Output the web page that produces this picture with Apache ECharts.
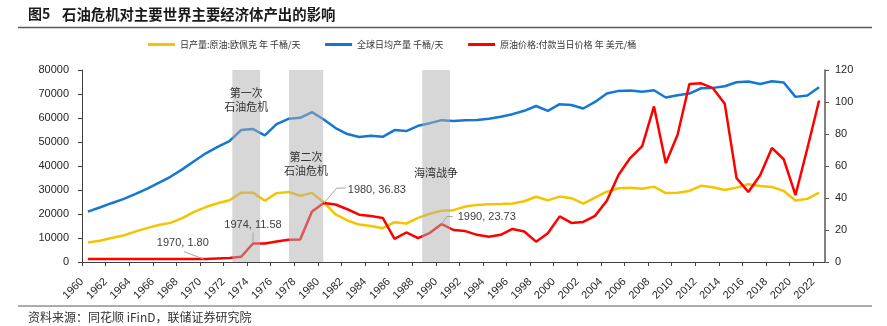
<!DOCTYPE html>
<html>
<head>
<meta charset="utf-8">
<script src="https://cdn.jsdelivr.net/npm/echarts@6/dist/echarts.min.js"></script>
<style>
  html, body { margin: 0; padding: 0; background: #fff; }
  #chart { width: 887px; height: 326px; }
</style>
</head>
<body>
<div id="chart"></div>
<script>
// Years on the category axis
const years = [
  '1960','1961','1962','1963','1964','1965','1966','1967','1968','1969',
  '1970','1971','1972','1973','1974','1975','1976','1977','1978','1979',
  '1980','1981','1982','1983','1984','1985','1986','1987','1988','1989',
  '1990','1991','1992','1993','1994','1995','1996','1997','1998','1999',
  '2000','2001','2002','2003','2004','2005','2006','2007','2008','2009',
  '2010','2011','2012','2013','2014','2015','2016','2017','2018','2019',
  '2020','2021','2022'
];

// OPEC crude output, thousand barrels per day
const opecOutput = [
  8140, 8850, 9970, 11050, 12650, 14100, 15400, 16300, 18300, 20900,
  22900, 24500, 25700, 28900, 28900, 25500, 28700, 29200, 27600, 28800,
  24800, 19800, 17300, 15600, 15000, 14100, 16600, 16000, 18400, 20100,
  21400, 21600, 23100, 23800, 24100, 24200, 24400, 25300, 27200, 25700,
  27250, 26600, 24300, 26800, 29300, 30700, 30900, 30500, 31400, 28700,
  28900, 29600, 31800, 31150, 30000, 31000, 32400, 31700, 31300, 29600,
  25600, 26300, 28900
];

// World average daily output, thousand barrels per day
const worldOutput = [
  21000, 22700, 24500, 26200, 28250, 30450, 33000, 35500, 38600, 42000,
  45300, 48000, 50400, 55000, 55400, 52750, 57450, 59650, 60100, 62450,
  59400, 55800, 53300, 52050, 52600, 52150, 54950, 54550, 56750, 57850,
  59100, 58700, 59100, 59150, 59700, 60500, 61600, 63000, 65000, 63000,
  65750, 65400, 63950, 66700, 70200, 71300, 71450, 70900, 71550, 68550,
  69500, 70200, 72400, 72550, 73250, 74900, 75200, 74200, 75300, 74800,
  68800, 69400, 72800
];

// Crude price, USD per barrel (money of the day)
const crudePrice = [
  1.90, 1.80, 1.80, 1.80, 1.80, 1.80, 1.80, 1.80, 1.80, 1.80,
  1.80, 2.24, 2.48, 3.29, 11.58, 11.53, 12.80, 13.92, 14.02, 31.61,
  36.83, 35.93, 32.97, 29.55, 28.78, 27.56, 14.43, 18.44, 14.92, 18.23,
  23.73, 20.00, 19.32, 16.97, 15.82, 17.02, 20.67, 19.09, 12.72, 17.97,
  28.50, 24.44, 25.02, 28.83, 38.27, 54.52, 65.14, 72.39, 97.26, 61.67,
  79.50, 111.26, 111.67, 108.66, 98.95, 52.39, 43.73, 54.19, 71.31, 64.21,
  41.84, 70.91, 100.93
];

// Years whose price is written next to the line
const labelledYears = ['1970', '1974', '1980', '1990'];

// Shaded crisis periods (in year units along the time axis)
const crisisStart = [1972.75, 1977.55, 1988.85];
const crisisEnd   = [1975.10, 1980.45, 1991.20];
const crisisNames = ['第一次\n石油危机', '第二次\n石油危机', '海湾战争'];

// Axis ranges
const leftTicks  = { min: 0, max: 80000, step: 10000 };
const rightTicks = { min: 0, max: 120, step: 20 };

const seriesNames = ['日产量:原油:欧佩克 年 千桶/天', '全球日均产量 千桶/天', '原油价格:付款当日价格 年 美元/桶'];

// ---- layout / style ----
const LATIN = "'Liberation Sans', Arial, sans-serif";
const CJK = "'Noto Sans CJK SC', sans-serif";
const COLORS = ['#F5C400', '#1478D2', '#FF0000'];

// Leader line (relative to the data point) and where the text sits
const NOTE_LAYOUT = {
  '1970': { path: [[-2, 0], [-22, -7.5]], text: [-23, -16.5], align: 'center' },
  '1974': { path: [[0, -1], [0, -11]], text: [0, -18.5], align: 'center' },
  '1980': { path: [[0, 0], [13, -15], [22, -15]], text: [24, -13.5], align: 'left' },
  '1990': { path: [[0, 0], [5, -7.5], [11, -7.5]], text: [16, -7], align: 'left' }
};
// vertical placement of the crisis captions on the right axis scale
const CRISIS_TEXT_LEVEL = [101.4, 61.4, 55.5];

const noteData = labelledYears.map(y => [y, crudePrice[years.indexOf(y)]]);

const chart = echarts.init(document.getElementById('chart'), null, { renderer: 'canvas' });

chart.setOption({
  animation: false,
  backgroundColor: '#ffffff',
  color: COLORS,
  graphic: [
    { type: 'text', left: 28, top: 7, style: { text: '图5', font: 'bold 14px ' + CJK, fill: '#1a1a1a' } },
    { type: 'text', left: 62, top: 7, style: { text: '石油危机对主要世界主要经济体产出的影响', font: 'bold 14.4px ' + CJK, fill: '#1a1a1a' } },
    { type: 'line', shape: { x1: 18, y1: 27.5, x2: 872, y2: 27.5 }, style: { stroke: '#595959', lineWidth: 1.5 } },
    { type: 'line', shape: { x1: 18, y1: 306, x2: 872, y2: 306 }, style: { stroke: '#595959', lineWidth: 1 } },
    { type: 'text', left: 28, top: 311, style: { text: '资料来源：同花顺 iFinD，联储证券研究院', font: '12px ' + CJK, fill: '#333' } }
  ],
  legend: {
    left: 148,
    top: 40,
    padding: 0,
    icon: 'rect',
    itemWidth: 27,
    itemHeight: 3,
    itemGap: 24.5,
    textStyle: { fontFamily: CJK, fontSize: 9, color: '#333' },
    data: seriesNames
  },
  grid: { left: 82, right: 62, top: 70, bottom: 64, containLabel: false },
  xAxis: [
    {
      type: 'category',
      data: years,
      show: false,
      boundaryGap: true
    },
    {
      type: 'value',
      min: 1960,
      max: 2023,
      interval: 2,
      position: 'bottom',
      axisLine: { show: true, lineStyle: { color: '#404040', width: 1 } },
      axisTick: { show: true, length: 4, lineStyle: { color: '#404040' } },
      splitLine: { show: false },
      axisLabel: {
        rotate: 45,
        margin: 18,
        fontFamily: LATIN,
        fontSize: 11,
        color: '#262626',
        showMaxLabel: false,
        formatter: v => String(v)
      }
    }
  ],
  yAxis: [
    {
      type: 'value',
      min: leftTicks.min,
      max: leftTicks.max,
      interval: leftTicks.step,
      position: 'left',
      axisLine: { show: true, lineStyle: { color: '#404040', width: 1 } },
      axisTick: { show: true, length: 4, lineStyle: { color: '#404040' } },
      splitLine: { show: false },
      axisLabel: { margin: 13, fontFamily: LATIN, fontSize: 11, color: '#262626', formatter: v => String(v) }
    },
    {
      type: 'value',
      min: rightTicks.min,
      max: rightTicks.max,
      interval: rightTicks.step,
      position: 'right',
      axisLine: { show: true, lineStyle: { color: '#595959', width: 1.5 } },
      axisTick: { show: true, length: 4, lineStyle: { color: '#595959' } },
      splitLine: { show: false },
      axisLabel: { margin: 10, fontFamily: LATIN, fontSize: 11, color: '#262626', formatter: v => String(v) }
    }
  ],
  series: [
    {
      name: seriesNames[0],
      type: 'line',
      xAxisIndex: 0,
      yAxisIndex: 0,
      data: opecOutput,
      showSymbol: false,
      lineStyle: { width: 2.5, color: COLORS[0] },
      itemStyle: { color: COLORS[0] },
      z: 2
    },
    {
      name: seriesNames[1],
      type: 'line',
      xAxisIndex: 0,
      yAxisIndex: 0,
      data: worldOutput,
      showSymbol: false,
      lineStyle: { width: 2.5, color: COLORS[1] },
      itemStyle: { color: COLORS[1] },
      z: 2
    },
    {
      name: seriesNames[2],
      type: 'line',
      xAxisIndex: 0,
      yAxisIndex: 1,
      data: crudePrice,
      showSymbol: false,
      lineStyle: { width: 2.5, color: COLORS[2] },
      itemStyle: { color: COLORS[2] },
      z: 2
    },
    {
      name: 'crisis',
      type: 'custom',
      xAxisIndex: 1,
      yAxisIndex: 1,
      silent: true,
      z: 5,
      data: crisisStart.map((s, i) => [s, crisisEnd[i], 0]),
      encode: { x: [0, 1], y: 2 },
      renderItem: function (params, api) {
        const i = params.dataIndex;
        const topLeft = api.coord([api.value(0), rightTicks.max]);
        const bottomRight = api.coord([api.value(1), rightTicks.min]);
        const textPt = api.coord([api.value(0), CRISIS_TEXT_LEVEL[i]]);
        const mid = (topLeft[0] + bottomRight[0]) / 2;
        return {
          type: 'group',
          children: [
            {
              type: 'rect',
              shape: {
                x: topLeft[0],
                y: topLeft[1],
                width: bottomRight[0] - topLeft[0],
                height: bottomRight[1] - topLeft[1]
              },
              style: { fill: 'rgba(175,175,175,0.5)' }
            },
            {
              type: 'text',
              x: mid,
              y: textPt[1],
              style: {
                text: crisisNames[i],
                font: '11px ' + CJK,
                fill: '#333',
                align: 'center',
                verticalAlign: 'middle',
                lineHeight: 14.5
              }
            }
          ]
        };
      }
    },
    {
      name: 'priceNotes',
      type: 'custom',
      xAxisIndex: 0,
      yAxisIndex: 1,
      silent: true,
      z: 6,
      data: noteData,
      encode: { x: 0, y: 1 },
      renderItem: function (params, api) {
        const year = years[api.value(0)] || noteData[params.dataIndex][0];
        const value = api.value(1);
        const p = api.coord([api.value(0), value]);
        const lay = NOTE_LAYOUT[year];
        return {
          type: 'group',
          children: [
            {
              type: 'polyline',
              shape: { points: lay.path.map(d => [p[0] + d[0], p[1] + d[1]]) },
              style: { stroke: '#a6a6a6', lineWidth: 1, fill: null }
            },
            {
              type: 'text',
              x: p[0] + lay.text[0],
              y: p[1] + lay.text[1],
              style: {
                text: year + ', ' + value.toFixed(2),
                font: '11px ' + LATIN,
                fill: '#404040',
                align: lay.align,
                verticalAlign: 'middle'
              }
            }
          ]
        };
      }
    }
  ]
});
</script>
</body>
</html>
